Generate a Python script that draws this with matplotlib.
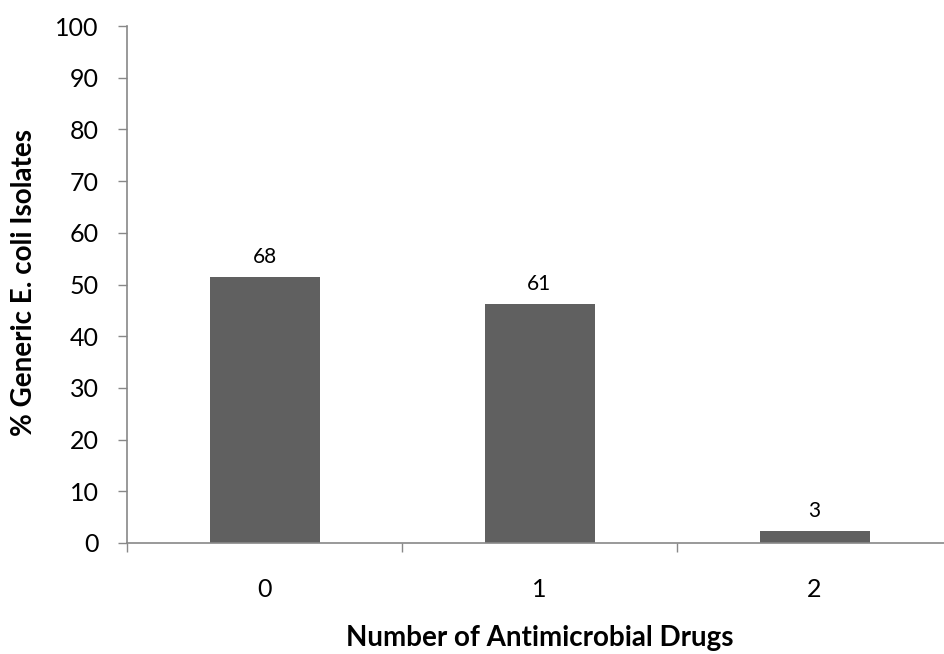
import matplotlib
matplotlib.use("Agg")
import matplotlib.pyplot as plt
from matplotlib.ticker import FixedLocator

categories = ["0", "1", "2"]
counts = [68, 61, 3]
percents = [51.5, 46.2, 2.3]
y_ticks = [0, 10, 20, 30, 40, 50, 60, 70, 80, 90, 100]

plt.rcParams['font.family'] = ['Lato', 'DejaVu Sans']

fig = plt.figure(figsize=(9.44, 6.54), dpi=100)
ax = fig.add_axes([127/944, 1 - 543/654, 825/944, (543 - 26)/654])

x = list(range(len(categories)))
bars = ax.bar(x, percents, width=0.4, color="#606060", zorder=2)
for xi, p, c in zip(x, percents, counts):
    ax.annotate(str(c), (xi, p), xytext=(0, 10), textcoords="offset points",
                ha="center", va="baseline", fontsize=15)

ax.set_xlim(-0.5, len(categories) - 0.5)
ax.set_ylim(0, 100)
ax.set_yticks(y_ticks)
ax.set_xticks(x)
ax.set_xticklabels(categories)
ax.xaxis.set_minor_locator(FixedLocator([i - 0.5 for i in range(len(categories) + 1)]))
ax.tick_params(axis="x", which="major", length=0, pad=25, labelsize=18)
ax.tick_params(axis="x", which="minor", length=6.5, width=1, color="#888888", direction="out")
ax.tick_params(axis="y", length=6.5, width=1, color="#888888", direction="out", labelsize=18, pad=14)

for s in ["top", "right"]:
    ax.spines[s].set_visible(False)
for s in ["left", "bottom"]:
    ax.spines[s].set_color("#888888")
    ax.spines[s].set_linewidth(1.2)

ax.set_xlabel("Number of Antimicrobial Drugs", fontsize=20, fontweight="bold")
ax.set_ylabel("% Generic E. coli Isolates", fontsize=20, fontweight="bold")
ax.xaxis.set_label_coords(0.5, (543 - 638) / 517, transform=ax.transAxes)
ax.xaxis.label.set_va("center")
ax.yaxis.set_label_coords((24 - 127) / 825, (543 - 282) / 517, transform=ax.transAxes)
ax.yaxis.label.set_va("center")

fig.savefig("out.png", dpi=100)
